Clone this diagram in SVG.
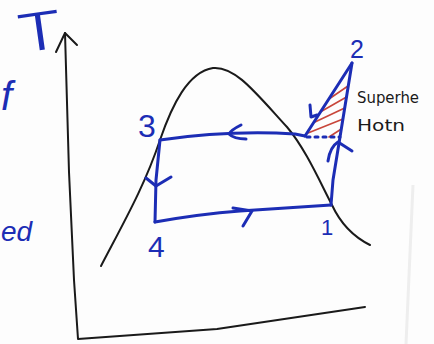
<svg xmlns="http://www.w3.org/2000/svg" width="434" height="344" viewBox="0 0 434 344">
<style>
.ink{fill:none;stroke:#1c2db5;stroke-width:3;stroke-linecap:round;stroke-linejoin:round}
.blk{fill:none;stroke:#1a1a1a;stroke-width:2;stroke-linecap:round;stroke-linejoin:round}
.hatch{fill:none;stroke:#c8463a;stroke-width:1.6;stroke-linecap:round}
.lbl{font-family:"Liberation Sans","DejaVu Sans",sans-serif;fill:#1c2db5}
.note{font-family:"DejaVu Sans","Liberation Sans",sans-serif;fill:#1a1a1a;font-size:16px}
</style>
<rect width="434" height="344" fill="#fdfdfd"/>
<path d="M413,185 L406,344" stroke="#eeeeee" stroke-width="3" fill="none"/>

<g id="axes">
<path class="blk" d="M65,33 L69,172 L74,280 L78,339 L217,329 L365,307"/>
<path class="blk" d="M56,52 L65,33 L77,45"/>
</g>
<g id="dome">
<path class="blk" d="M101,266 C125,220 145,185 160,140 C172,105 188,72 213,68 C235,66 255,92 287,127 C305,148 320,182 332,205 C338,218 350,235 370,245"/>
</g>

<g id="superheat">
<path class="hatch" d="M329,99 L348,86 M322,111 L346.5,97 M315,122 L344.7,108 M308,133 L343,119 M329,137 L341.3,129"/>
</g>

<g id="connectors">
<path class="ink" d="M160,140 Q230,130 295,134 L305,136"/>
<path class="ink" d="M241,125 Q231,130 229,134 Q234,139 246,139"/>
<path class="ink" d="M305,136 L352,63"/>
<path class="ink" d="M310,105 L311,117 L317,115" stroke-width="2.5"/>
<path class="ink" d="M352,63 L340,137 L333,180 L331,205"/>
<path class="ink" d="M328,161 Q330,147 338,142 L352,151"/>
<path class="ink" d="M307,137 L340,137" stroke-dasharray="3 5" stroke-width="2.5"/>
<path class="ink" d="M160,140 L156,180 L155,222"/>
<path class="ink" d="M146,178 L156,186 L171,177"/>
<path class="ink" d="M155,222 Q200,214 240,211 L331,205"/>
<path class="ink" d="M233,208 L252,211 L243,226"/>
</g>

<g id="labels">
<text x="16" y="50" font-family="Inter, 'Liberation Sans', sans-serif" font-weight="300" fill="#1c2db5" font-size="52" textLength="47" lengthAdjust="spacingAndGlyphs" transform="rotate(-8 40 30)">T</text>
<text class="lbl" x="138" y="137" font-size="32">3</text>
<text class="lbl" x="148" y="257" font-size="30">4</text>
<text class="lbl" x="321" y="235" font-size="22">1</text>
<text class="lbl" x="350" y="58" font-size="25">2</text>
<text class="lbl" x="1" y="110" font-size="40" font-style="italic">f</text>
<text class="lbl" x="1" y="241" font-size="28" font-style="italic">ed</text>
<text class="note" x="357" y="103" textLength="62" lengthAdjust="spacingAndGlyphs">Superhe</text>
<text class="note" x="357" y="131" font-size="18" textLength="48" lengthAdjust="spacingAndGlyphs">Hotn</text>
</g>
</svg>
